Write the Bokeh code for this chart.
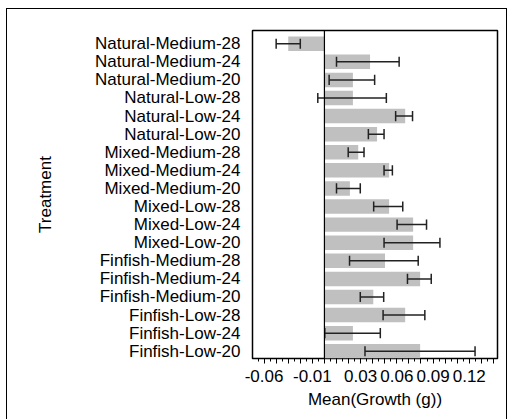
from bokeh.plotting import figure
from bokeh.models import Range1d, FixedTicker, Span, ColumnDataSource
from bokeh.embed import file_html
from bokeh.resources import INLINE

# Treatments listed top to bottom
treatments = [
    "Natural-Medium-28", "Natural-Medium-24", "Natural-Medium-20",
    "Natural-Low-28", "Natural-Low-24", "Natural-Low-20",
    "Mixed-Medium-28", "Mixed-Medium-24", "Mixed-Medium-20",
    "Mixed-Low-28", "Mixed-Low-24", "Mixed-Low-20",
    "Finfish-Medium-28", "Finfish-Medium-24", "Finfish-Medium-20",
    "Finfish-Low-28", "Finfish-Low-24", "Finfish-Low-20",
]
mean_growth = [
    -0.030, 0.0378, 0.0236,
    0.0236, 0.0669, 0.0436,
    0.0280, 0.0536, 0.0211,
    0.0536, 0.0735, 0.0735,
    0.0502, 0.0793, 0.0405,
    0.0669, 0.0236, 0.0793,
]
err_low = [
    -0.0400, 0.0100, 0.0039,
    -0.0055, 0.0590, 0.0364,
    0.0197, 0.0494, 0.0100,
    0.0408, 0.0602, 0.0494,
    0.0208, 0.0688, 0.0297,
    0.0486, 0.0003, 0.0336,
]
err_high = [
    -0.0200, 0.0619, 0.0416,
    0.0513, 0.0730, 0.0494,
    0.0328, 0.0563, 0.0297,
    0.0649, 0.0846, 0.0957,
    0.0777, 0.0885, 0.0491,
    0.0832, 0.0463, 0.1248,
]
# x tick positions and the labels printed under them
x_label_ticks = [-0.05, -0.01, 0.03, 0.06, 0.09, 0.12]
x_label_texts = ["-0.06", "-0.01", "0.03", "0.06", "0.09", "0.12"]

n = len(treatments)
ypos = [n - 1 - i for i in range(n)]

src = ColumnDataSource(dict(
    y=ypos, mean=mean_growth, lo=err_low, hi=err_high,
    cap_b=[v - 0.28 for v in ypos], cap_t=[v + 0.28 for v in ypos],
))

FONT = "Liberation Sans"

p = figure(
    width=501, height=411,
    x_range=Range1d(-0.0596, 0.1434),
    y_range=Range1d(-0.4, n - 1 + 0.73),
    output_backend="svg", toolbar_location=None,
    min_border_left=245, min_border_right=11,
    min_border_top=21, min_border_bottom=62,
    margin=(8, 0, 0, 6),
)
p.styles = {
    "border-top": "1px solid #000",
    "border-left": "1px solid #000",
    "border-right": "1px solid #000",
}
p.outline_line_color = "black"
p.outline_line_width = 1.5
p.outline_line_alpha = 1.0
p.xgrid.visible = False
p.ygrid.visible = False

# bars
p.hbar(y="y", left=0, right="mean", height=0.8, source=src,
       fill_color="#c0c0c0", line_color=None)

# zero reference line
p.add_layout(Span(location=0, dimension="height", line_color="black", line_width=1.2))

# error bars with caps
p.segment(x0="lo", x1="hi", y0="y", y1="y", source=src, line_color="#222", line_width=1.5)
p.segment(x0="lo", x1="lo", y0="cap_b", y1="cap_t", source=src, line_color="#222", line_width=1.5)
p.segment(x0="hi", x1="hi", y0="cap_b", y1="cap_t", source=src, line_color="#222", line_width=1.5)

# x axis
major = [round(-0.05 + 0.01 * i, 2) for i in range(20)]
minor = [round(-0.06 + 0.005 * i, 3) for i in range(41)]
xax = p.xaxis[0]
xax.ticker = FixedTicker(ticks=major, minor_ticks=minor)
overrides = {t: "" for t in major}
for t, s in zip(x_label_ticks, x_label_texts):
    overrides[t] = s
xax.major_label_overrides = overrides
xax.axis_line_color = None
xax.major_tick_out = 5
xax.major_tick_in = 0
xax.minor_tick_out = 3
xax.minor_tick_in = 0
xax.major_tick_line_color = "black"
xax.minor_tick_line_color = "black"
xax.major_label_text_font = FONT
xax.major_label_text_font_size = "17px"
xax.major_label_text_color = "black"
xax.major_label_standoff = 6
xax.axis_label = "Mean(Growth (g))"
xax.axis_label_text_font = FONT
xax.axis_label_text_font_size = "17px"
xax.axis_label_text_font_style = "normal"
xax.axis_label_text_color = "black"
xax.axis_label_standoff = 5

# y axis with treatment names
yax = p.yaxis[0]
yax.ticker = FixedTicker(ticks=ypos)
yax.major_label_overrides = {y: t for y, t in zip(ypos, treatments)}
yax.axis_line_color = None
yax.major_tick_line_color = None
yax.minor_tick_line_color = None
yax.major_label_text_font = FONT
yax.major_label_text_font_size = "17px"
yax.major_label_text_color = "black"
yax.major_label_standoff = 6
yax.axis_label = "Treatment"
yax.axis_label_text_font = FONT
yax.axis_label_text_font_size = "17px"
yax.axis_label_text_font_style = "normal"
yax.axis_label_text_color = "black"
yax.axis_label_standoff = 37

open("out.html", "w").write(file_html(p, INLINE))
